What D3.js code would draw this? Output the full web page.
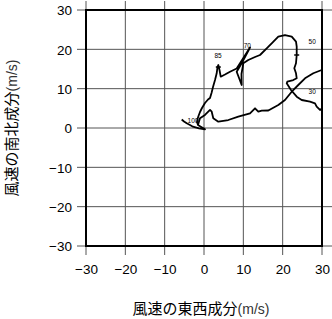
<!DOCTYPE html>
<html><head><meta charset="utf-8">
<script src="https://cdn.jsdelivr.net/npm/d3@7"></script>
<style>body{margin:0;background:#fff}svg{display:block}</style>
</head><body>
<script>
// hodograph: u (east-west), v (north-south) wind components (m/s)
const uVals = [-5.67,-5.08,-4.40,-3.56,-2.80,-1.27,0.25,-1.53,-1.78,-1.65,-1.40,-1.02,-0.51,0.25,1.02,1.53,1.91,2.29,2.80,3.23,3.43,3.64,3.94,4.25,5.34,6.61,8.31,11.70,9.58,8.31,9.58,9.53,9.99,11.26,12.97,14.24,15.94,17.21,18.89,20.59,22.30,23.39,23.57,23.57,23.39,22.96,23.39,23.57,22.70,21.18,21.03,22.12,23.57,24.84,26.95,28.22,28.65,29.49,30.0,31.5,32.0,31.0,29.92,27.79,25.68,23.97,22.30,20.59,18.89,16.35,14.67,13.81,12.97,11.70,8.72,6.18,3.64,2.36,1.96,1.53,0.25,-1.02,-1.53];
const vVals = [2.16,1.65,1.19,0.76,0.33,-0.08,-0.33,0.76,1.53,2.29,3.05,4.07,5.08,6.36,7.25,7.63,8.90,10.42,12.20,13.91,15.51,16.02,14.75,13.04,13.60,14.31,15.13,20.47,16.45,14.31,10.93,13.73,16.45,17.29,18.05,18.56,20.26,21.53,23.21,23.64,23.21,21.94,20.67,18.56,16.45,15.18,13.91,12.64,12.20,11.77,11.36,9.66,7.96,7.12,6.69,6.28,5.42,4.58,4.96,6.1,12.2,15.25,14.75,13.91,12.64,10.93,9.23,7.12,5.85,4.45,4.40,4.14,5.01,3.74,2.87,2.03,1.60,2.47,4.14,4.58,3.31,2.47,0.76];
const levelLabels = ["100","85","70","50","30"];
const levelU = [-2.8,3.56,11.0,27.5,27.5];
const levelV = [1.78,18.3,20.9,21.9,9.15];
const markU = [3.64,23.57];
const markV = [15.5,18.56];
const ticks = [-30,-20,-10,0,10,20,30];

const W=332,H=319, m={l:86,t:10,r:10,b:73};
const w=W-m.l-m.r, h=H-m.t-m.b;
const svg=d3.select("body").append("svg").attr("width",W).attr("height",H);
const x=d3.scaleLinear().domain([-30,30]).range([m.l,m.l+w]);
const y=d3.scaleLinear().domain([-30,30]).range([m.t+h,m.t]);

// grid
const g=svg.append("g");
g.selectAll(".gx").data(ticks).join("line")
  .attr("x1",d=>x(d)).attr("x2",d=>x(d)).attr("y1",m.t-9).attr("y2",m.t+h+9)
  .attr("stroke","#555").attr("stroke-width",1);
g.selectAll(".gy").data(ticks).join("line")
  .attr("y1",d=>y(d)).attr("y2",d=>y(d)).attr("x1",m.l-9).attr("x2",m.l+w+10)
  .attr("stroke","#555").attr("stroke-width",1);

// axes labels via d3 axis
const ax=svg.append("g").attr("transform",`translate(0,${m.t+h})`)
  .call(d3.axisBottom(x).tickValues(ticks).tickSize(0).tickPadding(18));
const ay=svg.append("g").attr("transform",`translate(${m.l},0)`)
  .call(d3.axisLeft(y).tickValues(ticks).tickSize(0).tickPadding(14));
[ax,ay].forEach(a=>{a.select(".domain").remove();
  a.selectAll("text").attr("font-family","'Liberation Sans',Arial,sans-serif").attr("font-size","13.5px").attr("fill","#000");});
ay.selectAll("text").attr("dy","0.35em");

// frame
svg.append("rect").attr("x",m.l).attr("y",m.t).attr("width",w).attr("height",h)
  .attr("fill","none").attr("stroke","#000").attr("stroke-width",2);

// clip
svg.append("clipPath").attr("id","c").append("rect").attr("x",m.l).attr("y",m.t).attr("width",w).attr("height",h);
const pts=uVals.map((u,i)=>[u,vVals[i]]);
svg.append("path").attr("clip-path","url(#c)")
  .attr("d",d3.line().x(d=>x(d[0])).y(d=>y(d[1]))(pts))
  .attr("fill","none").attr("stroke","#000").attr("stroke-width",1.8).attr("stroke-linejoin","round");
svg.selectAll(".mk").data(markU).join("line")
  .attr("x1",(d)=>x(d)-2.5).attr("x2",d=>x(d)+2.5)
  .attr("y1",(d,i)=>y(markV[i])).attr("y2",(d,i)=>y(markV[i]))
  .attr("stroke","#000").attr("stroke-width",1.5);
svg.selectAll(".lv").data(levelLabels).join("text")
  .attr("x",(d,i)=>x(levelU[i])).attr("y",(d,i)=>y(levelV[i]))
  .attr("text-anchor","middle").attr("dy","0.35em").attr("fill","#000")
  .attr("font-family","'Liberation Sans',Arial,sans-serif").attr("font-size","6.5px").text(d=>d);

// titles
const xt=svg.append("text").attr("x",201).attr("y",314).attr("text-anchor","middle")
  .attr("font-size","15px").attr("fill","#000");
xt.append("tspan").attr("font-family","'Noto Sans CJK JP',sans-serif").text("風速の東西成分");
xt.append("tspan").attr("font-family","'Liberation Sans',Arial,sans-serif").attr("font-size","14px").attr("fill","#333").text("(m/s)");
const yt=svg.append("text").attr("transform","translate(17,128) rotate(-90)").attr("text-anchor","middle")
  .attr("font-size","15px").attr("fill","#000");
yt.append("tspan").attr("font-family","'Noto Sans CJK JP',sans-serif").text("風速の南北成分");
yt.append("tspan").attr("font-family","'Liberation Sans',Arial,sans-serif").attr("font-size","14px").attr("fill","#333").text("(m/s)");
</script>
</body></html>
